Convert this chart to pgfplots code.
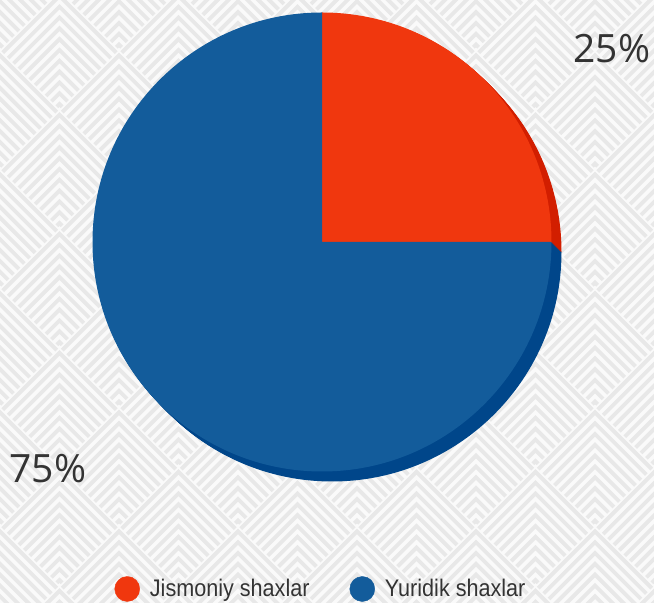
\documentclass[border=0pt]{standalone}
\usepackage{pgfplots}
\pgfplotsset{compat=1.18}
\usepackage{pgfplotstable}
\usepackage{fontspec}
\setmainfont{Liberation Sans}
\newfontfamily\legfont[FakeStretch=0.9]{Liberation Sans}
\newfontfamily\pctfont{Open Sans}
\definecolor{jred}{HTML}{F0370E}
\definecolor{jredd}{HTML}{D21E00}
\definecolor{yblue}{HTML}{135C9B}
\definecolor{ybluen}{HTML}{00468A}
\definecolor{txt}{HTML}{333333}
\definecolor{bgl}{HTML}{FAFAFA}
\definecolor{bgd}{HTML}{E8E8E8}

\pgfplotstableread{
label value
Jismoniy 25
Yuridik 75
}\piedata

\begin{document}
\begin{tikzpicture}[x=1pt,y=1pt]
\pgfplotstablegetelem{0}{value}\of\piedata \pgfmathsetmacro{\va}{\pgfplotsretval}
\pgfplotstablegetelem{1}{value}\of\piedata \pgfmathsetmacro{\vb}{\pgfplotsretval}
\pgfmathsetmacro{\tot}{\va+\vb}
\pgfmathsetmacro{\angA}{90-360*(\va/\tot)}
\pgfmathsetmacro{\angB}{\angA-360*(\vb/\tot)}
% background pattern
\begin{scope}
\clip (0,0) rectangle (654,603);
\fill[bgl] (0,0) rectangle (654,603);
\foreach \n in {-1,...,12}{
 \foreach \j in {-1,...,5}{
  \pgfmathsetmacro{\xv}{\n*59.5}
  \pgfmathsetmacro{\yv}{603-(50+119*\j+ifthenelse(mod(\n,2)==0,0,59.5))}
  \foreach \k in {0,...,10}{
   \pgfmathsetmacro{\dd}{(\k+0.5)*119/11}
   \pgfmathsetmacro{\hh}{(119-\dd)/2}
   \draw[bgd, line width=3.8pt] (\xv-\hh, \yv-\dd-\hh) -- (\xv, \yv-\dd) -- (\xv+\hh, \yv-\dd-\hh);
  }}}
\end{scope}
\begin{axis}[at={(0,0)}, anchor=south west, scale only axis,
  width=654pt, height=603pt, xmin=0, xmax=654, ymin=0, ymax=603,
  hide axis,
  legend style={at={(axis cs:321,14)}, anchor=center, draw=none, fill=none,
    legend columns=2, font=\legfont\fontsize{24}{28}\selectfont, text=txt,
    /tikz/every odd column/.append style={column sep=8pt},
    /tikz/every even column/.append style={column sep=38pt}},
  legend cell align=left,
  legend image code/.code={\fill[#1] (12.5pt,0pt) circle[radius=12.5pt];}]
\addlegendimage{jred}\addlegendentry{Jismoniy shaxlar}
\addlegendimage{yblue}\addlegendentry{Yuridik shaxlar}
\pgfplotsinvokeforeach{10,9,8,7,6,5,4,3,2,1}{
 \fill[jredd] (axis cs:{322+#1},{361-#1}) -- ++(90:229.5pt) arc[start angle=90,end angle=\angA,radius=229.5pt] -- cycle;
 \fill[ybluen] (axis cs:{322+#1},{361-#1}) -- ++(\angA:229.5pt) arc[start angle=\angA,end angle=\angB,radius=229.5pt] -- cycle;
}
\fill[jred] (axis cs:322,361) -- ++(90:229.5pt) arc[start angle=90,end angle=\angA,radius=229.5pt] -- cycle;
\fill[yblue] (axis cs:322,361) -- ++(\angA:229.5pt) arc[start angle=\angA,end angle=\angB,radius=229.5pt] -- cycle;
\node[font=\pctfont\fontsize{39}{44}\selectfont, text=txt] at (axis cs:612,554) {25\%};
\node[font=\pctfont\fontsize{39}{44}\selectfont, text=txt] at (axis cs:48,134) {75\%};
\end{axis}
\end{tikzpicture}
\end{document}
